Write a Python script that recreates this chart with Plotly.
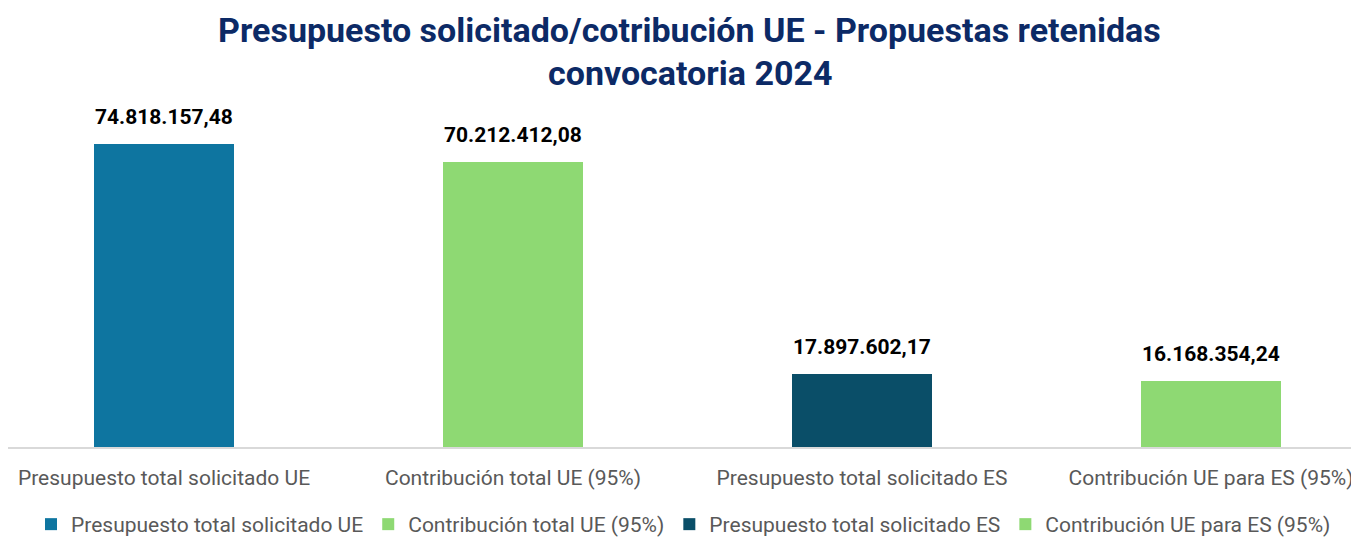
import plotly.graph_objects as go

categories = ["Presupuesto total solicitado UE", "Contribución total UE (95%)",
              "Presupuesto total solicitado ES", "Contribución UE para ES (95%)"]
values = [74818157.48, 70212412.08, 17897602.17, 16168354.24]
labels = ["74.818.157,48", "70.212.412,08", "17.897.602,17", "16.168.354,24"]
colors = ["#0E75A0", "#8ED973", "#0A4E68", "#8ED973"]
title_lines = ["Presupuesto solicitado/cotribución UE - Propuestas retenidas", "convocatoria 2024"]

FONT = "Roboto, Arial"
# page has an 8px body margin, so the figure is sized/offset to compensate
W, H, T, B = 1351, 529, 92, 90
PH = H - T - B


def py(pix):
    return (H - B - pix) / PH


fig = go.Figure()
for i, (c, v, col) in enumerate(zip(categories, values, colors)):
    fig.add_trace(go.Bar(
        x=[i], y=[v], name=c, marker=dict(color=col, line=dict(width=0)),
        width=0.40, hoverinfo="name+y",
    ))

annotations = [
    dict(text="<b>%s</b>" % title_lines[0], xref="paper", yref="paper",
         x=0.5, y=py(21.5), xanchor="center", yanchor="middle", showarrow=False, xshift=6,
         font=dict(family=FONT, size=34, color="#0C2A66")),
    dict(text="<b>%s</b>" % title_lines[1], xref="paper", yref="paper",
         x=0.5, y=py(65), xanchor="center", yanchor="middle", showarrow=False, xshift=6,
         font=dict(family=FONT, size=34, color="#0C2A66")),
]
for i, (v, l) in enumerate(zip(values, labels)):
    annotations.append(dict(
        text="<b>%s</b>" % l, x=i, y=v, xref="x", yref="y", showarrow=False,
        xanchor="center", yanchor="middle", yshift=27,
        font=dict(family=FONT, size=21, color="#000000"),
    ))

fig.update_layout(
    width=W, height=H,
    paper_bgcolor="white", plot_bgcolor="white",
    margin=dict(l=0, r=0, t=T, b=B),
    showlegend=True,
    legend=dict(orientation="h", x=0.5, xanchor="center", xref="container",
                y=(H - 496) / H, yanchor="top", yref="container",
                font=dict(family=FONT, size=21, color="#595959"),
                itemwidth=30, tracegroupgap=0),
    bargap=0,
    annotations=annotations,
)
fig.update_xaxes(
    range=[-0.447, 3.424], tickmode="array", tickvals=list(range(4)), ticktext=categories,
    tickfont=dict(family=FONT, size=21, color="#595959"), automargin=False,
    showline=True, linecolor="#D9D9D9", linewidth=1.5, ticks="outside", ticklen=11,
    tickcolor="rgba(0,0,0,0)", showgrid=False, zeroline=False,
)
fig.update_yaxes(range=[0, 85600000], visible=False, showgrid=False, zeroline=False,
                 automargin=False)

fig.write_html("out.html")
